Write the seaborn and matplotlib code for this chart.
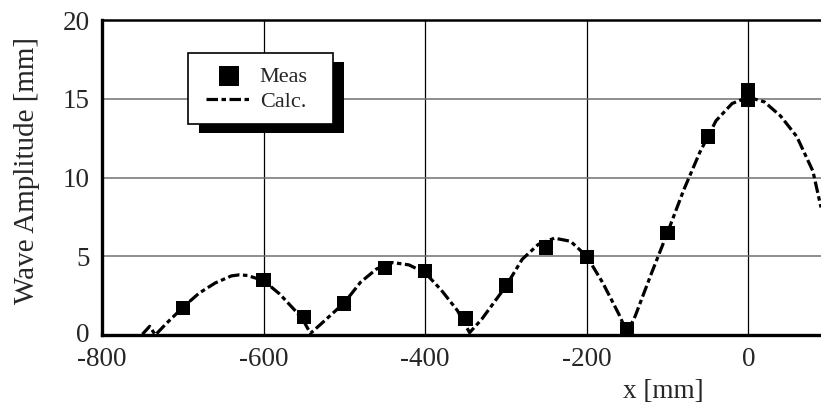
import matplotlib
matplotlib.use("Agg")
import matplotlib.pyplot as plt
import matplotlib.transforms as mtransforms
from matplotlib.patches import Rectangle
import seaborn as sns
import pandas as pd

# Measured wave amplitude
meas_x = [-700, -600, -550, -500, -450, -400, -350, -300, -250, -200, -150, -100, -50, 0, 0]
meas_y = [1.7, 3.5, 1.15, 2.0, 4.25, 4.05, 1.05, 3.15, 5.55, 4.95, 0.35, 6.5, 12.6, 15.55, 14.9]

# Calculated curve
calc_x = [-750, -741, -734, -720, -700, -680, -660, -640, -630, -620, -600, -580, -560, -550, -542,
          -530, -500, -480, -460, -440, -420, -400, -380, -360, -345,
          -330, -300, -280, -260, -240, -220, -200, -180, -160, -150,
          -140, -120, -100, -80, -60, -40, -20, 0, 20, 40, 60, 80, 90]
calc_y = [0.05, 0.55, 0.0, 0.75, 1.75, 2.65, 3.3, 3.75, 3.82, 3.78, 3.45, 2.6, 1.5, 0.85, 0.1,
          0.65, 2.05, 3.35, 4.2, 4.6, 4.45, 3.95, 2.85, 1.55, 0.15,
          1.0, 3.1, 4.8, 5.75, 6.15, 5.95, 5.0, 3.3, 1.3, 0.15,
          1.2, 3.9, 6.5, 9.2, 11.6, 13.6, 14.7, 15.1, 14.8, 13.9, 12.6, 10.4, 8.1]

x_ticks = [-800, -600, -400, -200, 0]
y_ticks = [0, 5, 10, 15, 20]

df_meas = pd.DataFrame({'x': meas_x, 'y': meas_y})
df_calc = pd.DataFrame({'x': calc_x, 'y': calc_y})

sns.set_style('white')
plt.rcParams['font.family'] = ['Liberation Serif', 'DejaVu Serif']
plt.rcParams['axes.unicode_minus'] = False

fig = plt.figure(figsize=(8.21, 4.04), dpi=100)
ax = fig.add_axes([102 / 821, 1 - 335 / 404, 1 - 102 / 821, 315 / 404])

sns.lineplot(data=df_calc, x='x', y='y', ax=ax, color='black', linewidth=2.3,
             estimator=None, sort=False, label='Calc.', zorder=2)
ax.lines[-1].set_dashes([3.6, 1.1, 1.4, 1.1])
sns.scatterplot(data=df_meas, x='x', y='y', ax=ax, marker='s', s=105, color='black',
                edgecolor='none', label='Meas', zorder=3)

ax.set_xlim(-800, 90)
ax.set_ylim(0, 20)
ax.set_xticks(x_ticks)
ax.set_yticks(y_ticks)
ax.tick_params(length=0, labelsize=19.5)
ax.tick_params(axis='y', pad=9)
ax.tick_params(axis='x', pad=9)

# lift the "0" on the y axis a little so it clears "-800"
zero_lbl = ax.get_yticklabels()[0]
zero_lbl.set_transform(zero_lbl.get_transform() +
                       mtransforms.ScaledTranslation(0, 2 / 72, fig.dpi_scale_trans))

ax.xaxis.grid(True, color='black', linewidth=0.9)
ax.yaxis.grid(True, color='#707070', linewidth=1.1)

for side in ['left', 'bottom']:
    ax.spines[side].set_linewidth(2.4)
    ax.spines[side].set_color('black')
ax.spines['top'].set_linewidth(1.8)
ax.spines['top'].set_color('black')
ax.spines['right'].set_visible(False)

ax.set_xlabel('x [mm]', fontsize=19.5)
ax.xaxis.set_label_coords((663 - 102) / 719, (335 - 391) / 315)
ax.xaxis.label.set_va('center')
ax.set_ylabel('Wave Amplitude [mm]', fontsize=21)
ax.yaxis.set_label_coords((27 - 102) / 719, (335 - 170) / 315)
ax.yaxis.label.set_va('center')

# legend box with hard shadow
handles, labels = ax.get_legend_handles_labels()
ax.get_legend().remove()
fig.add_artist(Rectangle((199 / 821, 1 - 133 / 404), 145 / 821, 71 / 404,
                         transform=fig.transFigure, facecolor='black', edgecolor='none', zorder=3))
fig.add_artist(Rectangle((188 / 821, 1 - 124 / 404), 145 / 821, 71 / 404,
                         transform=fig.transFigure, facecolor='white', edgecolor='black',
                         linewidth=1.2, zorder=4))
order = [labels.index('Meas'), labels.index('Calc.')]
leg = fig.legend([handles[i] for i in order], [labels[i] for i in order],
                 loc='center', bbox_to_anchor=(257 / 821, 1 - 89 / 404),
                 frameon=False, fontsize=16, handlelength=2.0, handletextpad=0.4,
                 labelspacing=0.2, markerscale=1.4, borderpad=0)
leg.set_zorder(5)

fig.savefig('out.png', dpi=100)
